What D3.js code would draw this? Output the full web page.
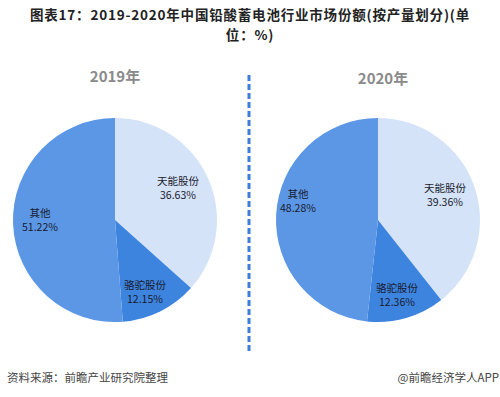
<!DOCTYPE html>
<html>
<head>
<meta charset="utf-8">
<script src="https://cdn.jsdelivr.net/npm/d3@7"></script>
<style>
  body { margin: 0; background: #fff; }
  text { font-family: "Noto Sans CJK SC", "Microsoft YaHei", sans-serif; }
</style>
</head>
<body>
<div id="chart"></div>
<script>
// data
var companies = ["天能股份", "骆驼股份", "其他"];
var years = ["2019年", "2020年"];
var share2019 = [36.63, 12.15, 51.22];
var share2020 = [39.36, 12.36, 48.28];
var sliceColors = ["#d5e3f8", "#3d84de", "#5b97e4"];

var width = 500, height = 397;

var svg = d3.select("#chart")
  .append("svg")
  .attr("width", width)
  .attr("height", height);

// title, two lines
var titleLines = ["图表17：2019-2020年中国铅酸蓄电池行业市场份额(按产量划分)(单", "位：%)"];
svg.selectAll("text.title")
  .data(titleLines)
  .enter()
  .append("text")
  .attr("class", "title")
  .attr("x", 250)
  .attr("y", function(d, i) { return 20 + i * 20; })
  .attr("text-anchor", "middle")
  .style("font-size", "13.5px")
  .style("font-weight", "bold")
  .style("letter-spacing", "0.8px")
  .attr("fill", "#222")
  .text(function(d) { return d; });

// dashed divider
svg.append("line")
  .attr("x1", 249).attr("x2", 249)
  .attr("y1", 75).attr("y2", 352)
  .attr("stroke", "#3d7fd8")
  .attr("stroke-width", 3)
  .attr("stroke-dasharray", "6,3");

var pie = d3.pie().sort(null).value(function(d) { return d; });
var arc = d3.arc().innerRadius(0).outerRadius(102);

// label positions relative to pie centre: 天能, 骆驼, 其他
var labelPos = [
  [[63, -35], [30, 69], [-75, -3]],
  [[67, -28], [19, 72], [-80, -22]]
];
var centers = [[115, 220], [378, 220]];
var yearPos = [[115, 82], [383, 84]];

[share2019, share2020].forEach(function(values, i) {
  svg.append("text")
    .attr("x", yearPos[i][0])
    .attr("y", yearPos[i][1])
    .attr("text-anchor", "middle")
    .style("font-size", "15px")
    .style("font-weight", "bold")
    .attr("fill", "#8a8a8a")
    .text(years[i]);

  var g = svg.append("g")
    .attr("transform", "translate(" + centers[i][0] + "," + centers[i][1] + ")");

  g.selectAll("path")
    .data(pie(values))
    .enter()
    .append("path")
    .attr("d", arc)
    .attr("fill", function(d, j) { return sliceColors[j]; });

  var lbl = g.selectAll("text.lbl")
    .data(pie(values))
    .enter()
    .append("text")
    .attr("class", "lbl")
    .attr("text-anchor", "middle")
    .style("font-size", "10.5px")
    .attr("fill", "#1a1a2e");
  lbl.append("tspan")
    .attr("x", function(d, j) { return labelPos[i][j][0]; })
    .attr("y", function(d, j) { return labelPos[i][j][1]; })
    .text(function(d, j) { return companies[j]; });
  lbl.append("tspan")
    .attr("x", function(d, j) { return labelPos[i][j][0]; })
    .attr("y", function(d, j) { return labelPos[i][j][1] + 14; })
    .text(function(d) { return d.data.toFixed(2) + "%"; });
});

// footer
svg.append("text")
  .attr("x", 7).attr("y", 382)
  .style("font-size", "11.5px")
  .attr("fill", "#444")
  .text("资料来源：前瞻产业研究院整理");
svg.append("text")
  .attr("x", 499).attr("y", 382)
  .attr("text-anchor", "end")
  .style("font-size", "11.5px")
  .attr("fill", "#444")
  .text("@前瞻经济学人APP");
</script>
</body>
</html>
